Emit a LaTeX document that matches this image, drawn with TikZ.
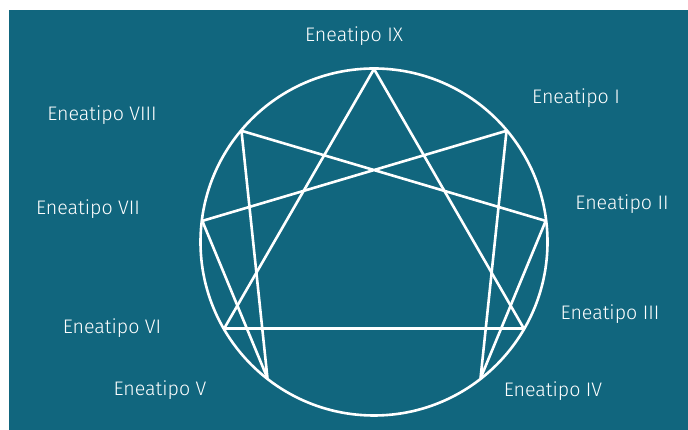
\documentclass[tikz,border=0pt]{standalone}
\usepackage{fontspec}
\setmainfont{Fira Sans}[UprightFont=* Light]
\usetikzlibrary{calc}
\definecolor{fondo}{RGB}{17,102,126}

\begin{document}
\begin{tikzpicture}[
    x=1pt, y=1pt,
    tipo/.style={text=white, font=\fontsize{19.6}{22}\selectfont, inner sep=0pt},
    trazo/.style={draw=white, line width=2.6pt, line join=round, line cap=round}
]

% -------------------------------------------------------------------------
% Canvas and background
% -------------------------------------------------------------------------
\useasboundingbox (0,0) rectangle (688,430);
\fill[fondo] (9,0) rectangle (688,420);

% -------------------------------------------------------------------------
% Circle and the nine points on it
% -------------------------------------------------------------------------
\coordinate (C) at (374,188);
\draw[trazo] (C) circle (173.5);

\coordinate (E9) at ($(C)+(90:173)$);
\coordinate (E1) at ($(C)+(40:173)$);
\coordinate (E2) at ($(C)+(7:173)$);
\coordinate (E3) at ($(C)+(-30:173)$);
\coordinate (E4) at ($(C)+(-52:173)$);
\coordinate (E5) at ($(C)+(232:173)$);
\coordinate (E6) at ($(C)+(210:173)$);
\coordinate (E7) at ($(C)+(173:173)$);
\coordinate (E8) at ($(C)+(140:173)$);

% Triangle 9-3-6
\draw[trazo] (E9) -- (E3) -- (E6) -- cycle;

% Hexad 1-4-2-8-5-7
\draw[trazo] (E1) -- (E4) -- (E2) -- (E8) -- (E5) -- (E7) -- cycle;

% -------------------------------------------------------------------------
% Labels
% -------------------------------------------------------------------------
\node[tipo] (L9) at (354,394) {Eneatipo IX};
\node[tipo] (L1) at (576,332) {Eneatipo I};
\node[tipo] (L2) at (622,226) {Eneatipo II};
\node[tipo] (L3) at (610,116) {Eneatipo III};
\node[tipo] (L4) at (553,39) {Eneatipo IV};
\node[tipo] (L5) at (160,40) {Eneatipo V};
\node[tipo] (L6) at (112,102) {Eneatipo VI};
\node[tipo] (L7) at (88,221) {Eneatipo VII};
\node[tipo] (L8) at (102,315) {Eneatipo VIII};

\end{tikzpicture}
\end{document}
